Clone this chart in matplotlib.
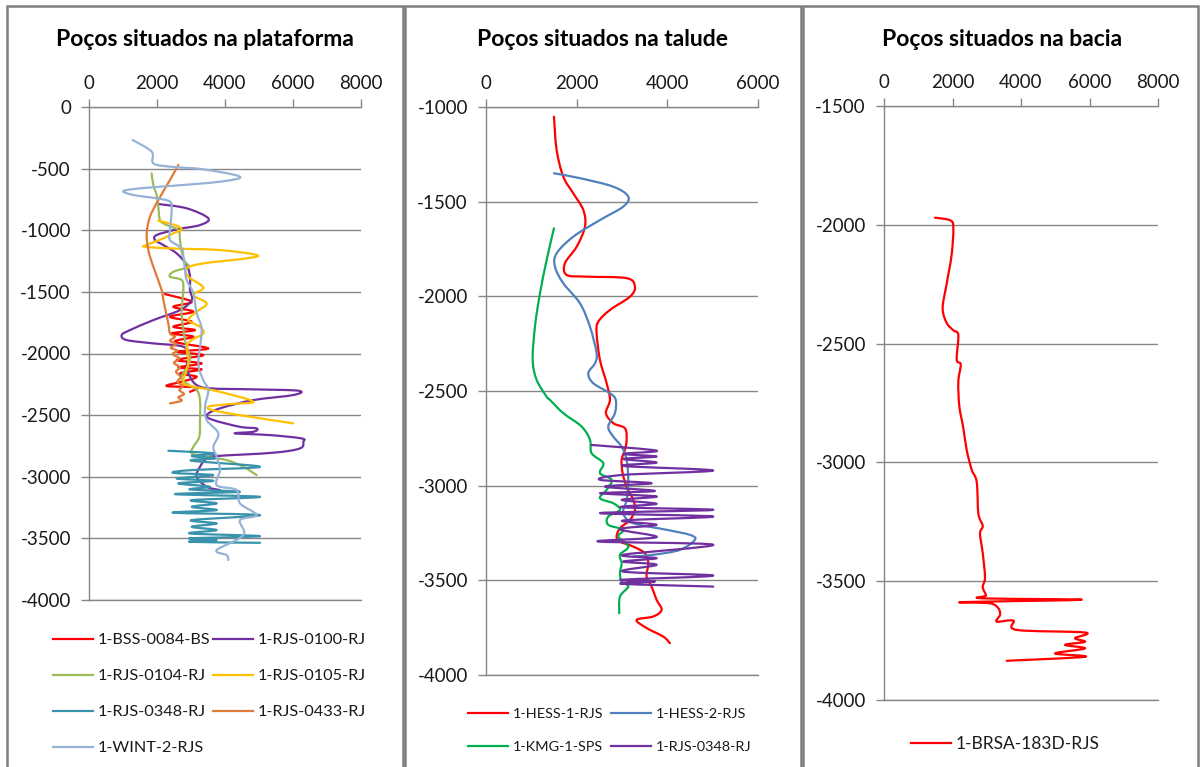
import matplotlib
matplotlib.use('Agg')
import matplotlib.pyplot as plt
from matplotlib.patches import Rectangle, PathPatch
from matplotlib.path import Path

plt.rcParams['font.family'] = ['Lato', 'DejaVu Sans']
plt.rcParams['axes.unicode_minus'] = False

# ---------------- data: velocity (x) vs depth (y) ----------------
# Panel 1 - plataforma
bss0084_vel = [2235, 3020, 2480, 3069, 2382, 3020, 2480, 3118, 2431, 3069, 2529, 3510, 2578, 3363,
               2578, 3314, 2627, 3314, 2676, 3167, 2725, 2284, 3167, 2970]
bss0084_dep = [-1518, -1580, -1621, -1661, -1702, -1742, -1783, -1810, -1837, -1864, -1905, -1959, -1986,
               -2013, -2053, -2080, -2113, -2129, -2161, -2189, -2229, -2264, -2275, -2311]

rjs0100_vel = [2038, 2873, 3510, 3265, 2579, 1990, 1941, 2186, 2579, 2873, 2970, 2970, 3020, 2676, 1892,
               1206, 962, 1108, 1892, 2774, 2921, 2872, 2970, 3167, 3559, 4833, 6156, 6009, 4833, 3853,
               3461, 3657, 4441, 4932, 4833, 4294, 5323, 6253, 6303, 6206, 5421, 3755, 3461, 3265, 3167,
               3461, 3853]
rjs0100_dep = [-787, -822, -903, -958, -993, -1039, -1079, -1120, -1188, -1282, -1377, -1485, -1566, -1648,
               -1729, -1810, -1850, -1891, -1918, -1945, -2026, -2107, -2189, -2256, -2283, -2291, -2302,
               -2337, -2378, -2445, -2500, -2540, -2595, -2608, -2635, -2648, -2662, -2689, -2716, -2770,
               -2805, -2832, -2851, -2919, -3000, -3081, -3108]

rjs0104_vel = [1843, 1892, 1990, 2038, 2088, 2284, 2627, 2676, 2725, 2823, 2921, 2480, 2382, 2725, 2774,
               2725, 2823, 2970, 2725, 2872, 3167, 3265, 3265, 3243, 3069, 3020, 3461, 4049, 4539, 4932]
rjs0104_dep = [-538, -633, -714, -809, -917, -958, -998, -1079, -1174, -1256, -1296, -1337, -1377, -1404,
               -1485, -1674, -1891, -2053, -2189, -2243, -2297, -2378, -2540, -2676, -2757, -2811, -2838,
               -2865, -2919, -2987]

rjs0105_vel = [2038, 2529, 2725, 2480, 2186, 1696, 1647, 2382, 3853, 4932, 4637, 3363, 2873, 2921, 3363,
               3069, 3461, 3167, 2921, 3265, 3363, 3020, 2872, 2921, 2872, 2774, 2872, 3853, 4833, 4147,
               3510, 3853, 6009]
rjs0105_dep = [-923, -958, -993, -1025, -1066, -1120, -1134, -1147, -1161, -1201, -1228, -1269, -1309,
               -1377, -1465, -1526, -1593, -1661, -1729, -1783, -1837, -1891, -1945, -2053, -2135, -2216,
               -2256, -2311, -2391, -2410, -2432, -2473, -2567]

rjs0348_vel = [2333, 3706, 3020, 3706, 3020, 5029, 3020, 2480, 3657, 2578, 3657, 2627, 3559, 2970, 4441,
               2529, 5029, 3020, 3755, 3020, 3755, 2480, 5029, 3020, 3755, 3020, 3755, 2970, 5029, 2970,
               3755, 2970, 5029]
rjs0348_dep = [-2789, -2811, -2832, -2851, -2870, -2919, -2946, -2968, -2987, -3014, -3033, -3054, -3081,
               -3103, -3122, -3141, -3163, -3190, -3216, -3244, -3271, -3292, -3311, -3352, -3379, -3406,
               -3433, -3460, -3482, -3500, -3514, -3528, -3536]

rjs0433_vel = [2627, 2382, 2038, 1794, 1696, 1745, 1892, 2137, 2186, 2333, 2382, 2529, 2382, 2559, 2402,
               2598, 2461, 2657, 2500, 2676, 2559, 2696, 2598, 2755, 2657, 2794, 2627, 2725, 2382]
rjs0433_dep = [-471, -592, -755, -890, -1025, -1161, -1296, -1485, -1566, -1756, -1837, -1864, -1896,
               -1923, -1953, -1977, -2005, -2040, -2075, -2113, -2148, -2189, -2229, -2264, -2297, -2329,
               -2356, -2383, -2405]

wint2_vel = [1285, 1843, 1892, 2382, 3363, 4441, 3853, 2382, 1500, 1010, 1304, 1990, 2382, 2432, 2382,
             2382, 2725, 2774, 2823, 2872, 3069, 3167, 3314, 3216, 3363, 3510, 3412, 3461, 3804, 3657,
             3755, 3853, 3755, 4343, 4441, 4932, 4441, 4539, 3755, 4049, 4098]
wint2_dep = [-268, -362, -457, -484, -506, -565, -606, -641, -660, -682, -714, -741, -768, -836, -998,
             -1079, -1147, -1215, -1323, -1404, -1512, -1674, -1810, -2080, -2216, -2297, -2432, -2540,
             -2648, -2757, -2838, -2946, -3068, -3108, -3216, -3311, -3352, -3474, -3595, -3636, -3676]

# Panel 2 - talude
hess1_vel = [1499, 1558, 1705, 1925, 2146, 2183, 2000, 1742, 1779, 2220, 3102, 3285, 3175, 2734, 2477,
             2440, 2514, 2661, 2734, 2646, 2808, 3065, 3102, 3065, 2992, 3014, 3102, 3249, 3285, 3175,
             2955, 2881, 2955, 3249, 3506, 3579, 3543, 3653, 3763, 3874, 3690, 3322, 3543, 3910, 4057]
hess1_dep = [-1051, -1227, -1368, -1456, -1544, -1632, -1738, -1825, -1887, -1896, -1904, -1949, -2002,
             -2072, -2134, -2195, -2336, -2459, -2547, -2617, -2670, -2697, -2758, -2811, -2864, -2934,
             -3005, -3075, -3128, -3181, -3225, -3269, -3295, -3322, -3357, -3410, -3480, -3533, -3603,
             -3656, -3691, -3709, -3752, -3797, -3832]

hess2_vel = [1499, 2073, 2808, 3138, 3028, 2514, 1925, 1558, 1521, 1705, 2073, 2293, 2440, 2403, 2256,
             2367, 2734, 2862, 2844, 2697, 2808, 2992, 3102, 3138, 3102, 3028, 3249, 3984, 4498, 4608,
             4278, 3690, 3249]
hess2_dep = [-1350, -1376, -1421, -1473, -1526, -1597, -1685, -1773, -1843, -1931, -2037, -2160, -2301,
             -2354, -2406, -2459, -2512, -2547, -2617, -2688, -2741, -2794, -2864, -2969, -3075, -3145,
             -3198, -3233, -3260, -3286, -3339, -3365, -3374]

kmg1_vel = [1499, 1338, 1191, 1080, 1030, 1117, 1338, 1411, 1705, 2110, 2293, 2330, 2587, 2514, 2771,
            2661, 2514, 2808, 2955, 2697, 2697, 3028, 2918, 3138, 2955, 2992, 2955, 2992, 3138, 2955, 2940]
kmg1_dep = [-1641, -1808, -1984, -2160, -2336, -2441, -2530, -2547, -2617, -2688, -2758, -2829, -2881,
            -2934, -2969, -3022, -3066, -3093, -3128, -3163, -3207, -3233, -3269, -3322, -3365, -3410,
            -3462, -3506, -3533, -3586, -3674]

rjs0348b_vel = [2330, 3763, 3028, 3763, 3028, 3763, 3028, 5012, 3028, 2514, 3653, 2624, 3726, 2514, 3763,
                2992, 3763, 2992, 5012, 2514, 5012, 3028, 3763, 2955, 3763, 2477, 5012, 3028, 3763, 3028,
                3763, 3028, 5012, 2992, 3726, 2992, 5012]
rjs0348b_dep = [-2785, -2815, -2832, -2846, -2859, -2878, -2896, -2920, -2943, -2969, -2987, -3005, -3028,
                -3040, -3057, -3075, -3096, -3114, -3128, -3145, -3163, -3184, -3207, -3230, -3272, -3295,
                -3312, -3365, -3383, -3401, -3418, -3454, -3475, -3497, -3506, -3518, -3533]

# Panel 3 - bacia
brsa183d_vel = [1489, 1927, 2024, 1976, 1830, 1713, 1830, 2024, 2170, 2122, 2240, 2170, 2199, 2316, 2414,
                2561, 2707, 2756, 2882, 2803, 2882, 2949, 2882, 2978, 2882, 5773, 2316, 3095, 3338, 3387,
                3290, 3776, 3874, 5869, 5577, 5869, 5285, 5869, 4993, 5869, 3583]
brsa183d_dep = [-1970, -1981, -2011, -2125, -2248, -2351, -2413, -2444, -2464, -2567, -2588, -2660, -2763,
                -2855, -2948, -3031, -3082, -3216, -3267, -3299, -3381, -3484, -3525, -3560, -3572, -3578,
                -3588, -3593, -3614, -3642, -3670, -3666, -3705, -3716, -3740, -3755, -3768, -3783, -3804,
                -3818, -3835]

titles = ['Poços situados na plataforma', 'Poços situados na talude', 'Poços situados na bacia']

# ---------------- figure ----------------
W, H = 1200, 767
fig = plt.figure(figsize=(W / 100, H / 100), dpi=100)
GRAY = '#868686'
TXT = '#1a1a1a'
LW = 1.6


def px_axes(l, t, r, b):
    return fig.add_axes([l / W, 1 - b / H, (r - l) / W, (b - t) / H])


def style(ax, xmax, xstep, ymin, ymax, ystep):
    ax.set_xlim(0, xmax)
    ax.set_ylim(ymin, ymax)
    ax.set_xticks(list(range(0, xmax + 1, xstep)))
    ax.set_yticks(list(range(ymin, ymax + 1, ystep)))
    ax.xaxis.tick_top()
    ax.tick_params(axis='both', colors=GRAY, labelcolor=TXT, labelsize=13.5, length=6, width=1,
                   direction='out')
    ax.tick_params(axis='x', pad=5)
    ax.tick_params(axis='y', pad=7)
    ax.spines['right'].set_visible(False)
    for s in ['left', 'top', 'bottom']:
        ax.spines[s].set_color(GRAY)
        ax.spines[s].set_linewidth(1)
    ax.grid(axis='y', color=GRAY, lw=1)
    ax.set_axisbelow(True)


def smooth_line(ax, xs, ys, color, label):
    """Draw the series as a smoothed (Excel-like) curve through its points."""
    n = len(xs)
    verts = [(xs[0], ys[0])]
    codes = [Path.MOVETO]
    for i in range(n - 1):
        i0, i3 = max(i - 1, 0), min(i + 2, n - 1)
        c1 = (xs[i] + (xs[i + 1] - xs[i0]) / 6, ys[i] + (ys[i + 1] - ys[i0]) / 6)
        c2 = (xs[i + 1] - (xs[i3] - xs[i]) / 6, ys[i + 1] - (ys[i3] - ys[i]) / 6)
        verts += [c1, c2, (xs[i + 1], ys[i + 1])]
        codes += [Path.CURVE4] * 3
    ax.add_patch(PathPatch(Path(verts, codes), fill=False, ec=color, lw=LW,
                           capstyle='round', joinstyle='round'))
    h, = ax.plot([], [], color=color, lw=LW, label=label)
    return h


def legend(handles, x, ytop, size, spacing):
    fs_px = size * 100 / 72
    fig.legend(handles=handles, loc='upper left', bbox_to_anchor=(x / W, 1 - ytop / H),
               frameon=False, borderpad=0, borderaxespad=0, handlelength=40 / fs_px,
               handletextpad=5 / fs_px, labelspacing=spacing, fontsize=size, labelcolor=TXT)


# panel borders
for l, r in [(7, 403), (405, 801), (803, 1198)]:
    fig.patches.append(Rectangle((l / W, -0.05), (r - l) / W, 1.05 - 6 / H, transform=fig.transFigure,
                                 fill=False, ec='#7f7f7f', lw=1.8))

TITLE_FS = 16.5

# Panel 1
ax1 = px_axes(89, 107, 361, 600)
style(ax1, 8000, 2000, -4000, 0, 500)
l1 = smooth_line(ax1, bss0084_vel, bss0084_dep, '#FF0000', '1-BSS-0084-BS')
l2 = smooth_line(ax1, rjs0100_vel, rjs0100_dep, '#7030A0', '1-RJS-0100-RJ')
l3 = smooth_line(ax1, rjs0104_vel, rjs0104_dep, '#9BBB59', '1-RJS-0104-RJ')
l4 = smooth_line(ax1, rjs0105_vel, rjs0105_dep, '#FFC000', '1-RJS-0105-RJ')
l5 = smooth_line(ax1, rjs0348_vel, rjs0348_dep, '#3A93AC', '1-RJS-0348-RJ')
l6 = smooth_line(ax1, rjs0433_vel, rjs0433_dep, '#E07B39', '1-RJS-0433-RJ')
l7 = smooth_line(ax1, wint2_vel, wint2_dep, '#95B3D7', '1-WINT-2-RJS')
fig.text(205 / W, 1 - 40 / H, titles[0], ha='center', va='center', fontsize=TITLE_FS, fontweight='bold',
         color='black')
legend([l1, l3, l5, l7], 53, 633, 11.7, 1.33)
legend([l2, l4, l6], 213, 633, 11.7, 1.33)

# Panel 2
ax2 = px_axes(486, 107, 758, 675)
style(ax2, 6000, 2000, -4000, -1000, 500)
m1 = smooth_line(ax2, hess1_vel, hess1_dep, '#FF0000', '1-HESS-1-RJS')
m2 = smooth_line(ax2, hess2_vel, hess2_dep, '#4F81BD', '1-HESS-2-RJS')
m3 = smooth_line(ax2, kmg1_vel, kmg1_dep, '#00B050', '1-KMG-1-SPS')
m4 = smooth_line(ax2, rjs0348b_vel, rjs0348b_dep, '#7030A0', '1-RJS-0348-RJ')
fig.text(603 / W, 1 - 40 / H, titles[1], ha='center', va='center', fontsize=TITLE_FS, fontweight='bold',
         color='black')
legend([m1, m3], 468, 708, 10.4, 1.42)
legend([m2, m4], 611, 708, 10.4, 1.42)

# Panel 3
ax3 = px_axes(884, 106, 1158, 700)
style(ax3, 8000, 2000, -4000, -1500, 500)
n1 = smooth_line(ax3, brsa183d_vel, brsa183d_dep, '#FF0000', '1-BRSA-183D-RJS')
fig.text(1002 / W, 1 - 40 / H, titles[2], ha='center', va='center', fontsize=TITLE_FS, fontweight='bold',
         color='black')
legend([n1], 911, 736, 12.5, 0.8)

fig.savefig('out.png', dpi=100)
